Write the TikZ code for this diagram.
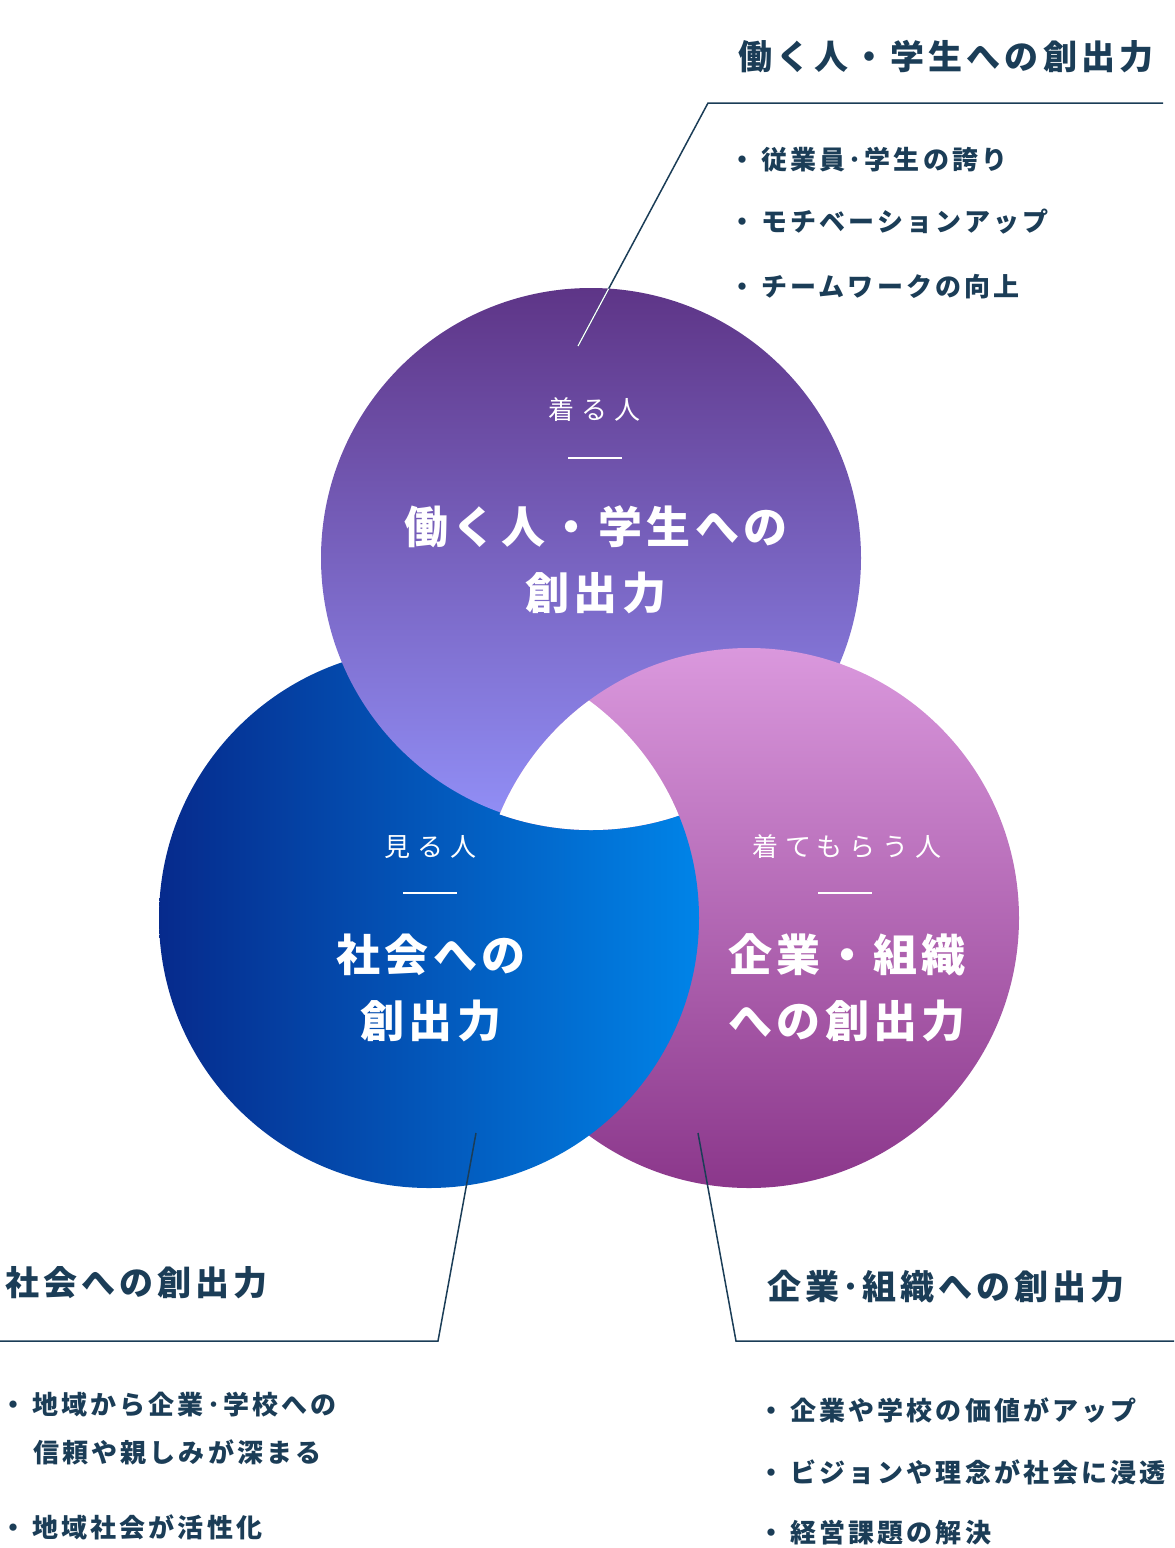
\documentclass[tikz,border=0pt]{standalone}
\usepackage{fontspec}
\usepackage{tikz}
\newfontfamily\jp{Noto Sans CJK JP}
\definecolor{ink}{HTML}{1B3D57}
\definecolor{topa}{HTML}{5E3587}
\definecolor{topb}{HTML}{9290F8}
\definecolor{lefta}{HTML}{062A8C}
\definecolor{leftb}{HTML}{0084E8}
\definecolor{righta}{HTML}{DA98DD}
\definecolor{rightb}{HTML}{8B378B}

\tikzset{
  head/.style={text=ink, inner sep=0pt, anchor=west, font=\jp\bfseries\fontsize{17}{20}\selectfont\addfontfeature{LetterSpace=12}},
  item/.style={text=ink, inner sep=0pt, anchor=west, font=\jp\bfseries\fontsize{13}{15}\selectfont\addfontfeature{LetterSpace=12}},
  who/.style={text=white, inner sep=0pt, font=\jp\fontsize{13}{15}\selectfont\addfontfeature{LetterSpace=27}},
  gain/.style={text=white, inner sep=0pt, align=center, font=\jp\bfseries\fontsize{22}{33}\selectfont\addfontfeature{LetterSpace=10}},
  lead/.style={draw=ink, line width=0.75pt},
  rule/.style={draw=white, line width=0.6pt},
}

\begin{document}
\begin{tikzpicture}[x=0.5pt,y=-0.5pt]
\useasboundingbox (0,0) rectangle (1174,1548);
\coordinate (ct) at (591,558);
\coordinate (cl) at (429,918);
\coordinate (cr) at (749,918);
\coordinate (tin) at (578,346);
\coordinate (tk) at (708,103);
\coordinate (tend) at (1163,103);
\coordinate (lin) at (476,1133);
\coordinate (lk) at (438,1341);
\coordinate (lend) at (0,1341);
\coordinate (rin) at (698,1133);
\coordinate (rk) at (736,1341);
\coordinate (rend) at (1174,1341);

 \shade[top color=righta, bottom color=rightb]  (cr) circle (270);
 \shade[left color=lefta, right color=leftb]  (cl) circle (270);
 \shade[top color=topa, bottom color=topb]  (ct) circle (270);
 \begin{scope}
  \clip (ct) circle (272);
  \shade[top color=righta, bottom color=rightb]  (cr) circle (270);
 \end{scope}
 \begin{scope}
  \clip (ct) circle (272);
  \clip (cr) circle (270);
  \fill[white]  (cl) circle (270);
 \end{scope}

 \draw[lead]  (tin) -- (tk) -- (tend);
 \begin{scope}
  \clip (ct) circle (270);
  \draw[rule]  (tin) -- (tk);
 \end{scope}
 \draw[lead]  (lin) -- (lk) -- (lend);
 \draw[lead]  (rin) -- (rk) -- (rend);

 \node[who] (twho) at (595,410) {着る人};
 \draw[rule]  (568,458) -- (622,458);
 \node[gain] (tgain) at (596,560) {働く人・学生への\\創出力};
 \node[who] (lwho) at (431,847) {見る人};
 \draw[rule]  (403,893) -- (457,893);
 \node[gain] (lgain) at (431,988) {社会への\\創出力};
 \node[who] (rwho) at (847,847) {着てもらう人};
 \draw[rule]  (818,893) -- (872,893);
 \node[gain] (rgain) at (847,988) {企業・組織\\への創出力};

 \node[head] (thead) at (738,57) {働く人・学生への創出力};
 \node[item] (t1) at (729,160) {・\kern3pt 従業員･学生の誇り};
 \node[item] (t2) at (729,222) {・\kern3pt モチベーションアップ};
 \node[item] (t3) at (729,287) {・\kern3pt チームワークの向上};

 \node[head] (lhead) at (5,1283) {社会への創出力};
 \node[item] (l1) at (0,1405) {・\kern3pt 地域から企業･学校への};
 \node[item] (l2) at (33,1452) {信頼や親しみが深まる};
 \node[item] (l3) at (0,1527) {・\kern3pt 地域社会が活性化};

 \node[head] (rhead) at (767,1287) {企業\kern1.5pt･\kern1.5pt 組織への創出力};
 \node[item] (r1) at (758,1410) {・\kern3pt 企業や学校の価値がアップ};
 \node[item] (r2) at (758,1472) {・\kern3pt ビジョンや理念が社会に浸透};
 \node[item] (r3) at (758,1533) {・\kern3pt 経営課題の解決};
\end{tikzpicture}
\end{document}
